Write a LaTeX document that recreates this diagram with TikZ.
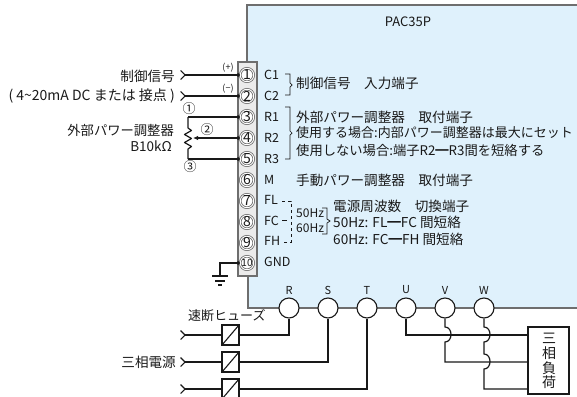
\documentclass[tikz,border=0pt]{standalone}
\usepackage{fontspec}
\setmainfont{Noto Sans CJK JP}
\usetikzlibrary{
    arrows.meta,
    calc
}
\definecolor{panelblue}{RGB}{223,241,252}
\definecolor{edgegray}{RGB}{110,110,110}
\definecolor{inkdark}{RGB}{25,25,25}
\newcommand{\fs}[1]{\fontsize{#1}{#1}\selectfont}
\tikzset{
    term/.style={circle, draw=edgegray, fill=white, line width=0.8pt, double=white, double distance=0.9pt, minimum size=13.5pt, inner sep=0pt, text=inkdark, font=\fs{14}},
    power/.style={circle, draw=inkdark, fill=white, line width=1.1pt, minimum size=20pt, inner sep=0pt},
    txt/.style={inner sep=0pt, text=inkdark, anchor=west, font=\fs{13.6}},
    txtr/.style={txt, anchor=east},
    small/.style={inner sep=0pt, text=inkdark, font=\fs{11}},
    wire/.style={draw=inkdark, line width=1.2pt},
    sig/.style={wire, {Straight Barb[reversed, length=4.5pt, width=9pt, line width=1.2pt]}-{Circle[length=3.5pt]}},
    dotted end/.style={wire, -{Circle[length=3.5pt]}},
    feed/.style={wire, {Straight Barb[reversed, length=4.5pt, width=9pt, line width=1.2pt]}-},
    brace/.style={draw=inkdark, line width=0.7pt},
    fuse/.style={draw=inkdark, fill=white, line width=1.2pt, minimum width=17pt, minimum height=20pt, inner sep=0pt, path picture={\draw[inkdark, line width=1.1pt] (path picture bounding box.south west) -- (path picture bounding box.north east);}}
}
\begin{document}
\begin{tikzpicture}[x=1pt, y=-1pt]
    \useasboundingbox (0, 0) rectangle (577, 396);

    % panel
    \fill[panelblue] (247, 5) rectangle (580, 308);
    \draw[edgegray, line width=1.1pt] (580, 5) -- (247, 5) -- (247, 62);
    \draw[edgegray, line width=1.1pt] (248, 276) -- (248, 308) -- (580, 308);
    \draw[edgegray, line width=1.1pt, fill=white!92!black] (238, 62) rectangle (257, 276);
    \node[txt, anchor=center, font=\fs{13}] (title) at (408, 22) {PAC35P};

    % terminal strip
    \node[term] (t1) at (247, 75) {1};
    \node[term] (t2) at (247, 96) {2};
    \node[term] (t3) at (247, 117) {3};
    \node[term] (t4) at (247, 138) {4};
    \node[term] (t5) at (247, 159) {5};
    \node[term] (t6) at (247, 180) {6};
    \node[term] (t7) at (247, 201) {7};
    \node[term] (t8) at (247, 222) {8};
    \node[term] (t9) at (247, 243) {9};
    \node[term, font=\fs{10}] (t10) at (247, 263) {10};

    \node[txt, font=\fs{12.5}] (c1) at (264, 75) {C1};
    \node[txt, font=\fs{12.5}] (c2) at (264, 96) {C2};
    \node[txt, font=\fs{12.5}] (r1) at (264, 117) {R1};
    \node[txt, font=\fs{12.5}] (r2) at (264, 138) {R2};
    \node[txt, font=\fs{12.5}] (r3) at (264, 159) {R3};
    \node[txt, font=\fs{12.5}] (m) at (264, 180) {M};
    \node[txt, font=\fs{12.5}] (fl) at (264, 200) {FL};
    \node[txt, font=\fs{12.5}] (fc) at (264, 221) {FC};
    \node[txt, font=\fs{12.5}] (fh) at (264, 241) {FH};
    \node[txt, font=\fs{12.5}] (gnd) at (264, 262) {GND};

    % control inputs
    \coordinate (in1) at (180, 75);
    \coordinate (in2) at (180, 96);
    \draw[sig] (in1) -- (t1.west);
    \draw[sig] (in2) -- (t2.west);
    \node[small, font=\fs{9}] (plus) at (228, 68) {(+)};
    \node[small, font=\fs{9}] (minus) at (228, 89) {(−)};
    \node[txtr] (sigtxt) at (175, 76) {制御信号};
    \node[txtr, font=\fs{14}] (rangetxt) at (175, 96) {( 4\textasciitilde 20mA DC または 接点 )};

    % external potentiometer
    \coordinate (pot) at (188, 128);
    \coordinate (potb) at (188, 151);
    \coordinate (wiper) at (193, 138);
    \draw[dotted end] (t3.west -| pot) -- (t3.west);
    \draw[wire, line join=round] (t3.west -| pot) -- (pot) -- ++(3.5, 2.5) -- ++(-7, 4) -- ++(7, 4) -- ++(-7, 4) -- ++(7, 4) -- ++(-3.5, 2.5) -- (potb) -- (t5.west -| pot);
    \draw[dotted end] (t5.west -| pot) -- (t5.west);
    \draw[wire, {Latex[length=5pt, width=4.5pt]}-{Circle[length=3.5pt]}] (wiper) -- (t4.west);
    \node[small, font=\fs{13}] (pin1) at (189, 109) {①};
    \node[small, font=\fs{13}] (pin2) at (207, 130) {②};
    \node[small, font=\fs{13}] (pin3) at (190, 167) {③};
    \node[txtr, font=\fs{13.3}] (pottxt) at (174, 130) {外部パワー調整器};
    \node[txtr, font=\fs{13.5}] (potval) at (172, 146) {B10kΩ};

    % right hand notes
    \draw[brace] (285, 74) -- (290, 74) -- (290, 83) -- (292, 85) -- (290, 87) -- (290, 95) -- (285, 95);
    \draw[brace] (285, 107) -- (290, 107) -- (290, 131) -- (292, 133) -- (290, 135) -- (290, 159) -- (285, 159);
    \node[txt] (note1) at (296, 83) {制御信号\hspace{1em}入力端子};
    \node[txt] (note2) at (296, 117) {外部パワー調整器\hspace{1em}取付端子};
    \node[txt, font=\fs{13}] (note3) at (296, 133) {使用する場合:内部パワー調整器は最大にセット};
    \node[txt, font=\fs{13.3}] (note4) at (296, 150) {使用しない場合:端子R2━R3間を短絡する};
    \node[txt] (note5) at (296, 180) {手動パワー調整器\hspace{1em}取付端子};

    % frequency selector
    \draw[brace, dashed, dash pattern=on 3pt off 3pt] (282, 201) -- (291, 201) -- (291, 242) -- (282, 242);
    \draw[brace] (282, 220) -- (287, 220);
    \node[txt, font=\fs{12}] (hz50) at (296, 213) {50Hz};
    \node[txt, font=\fs{12}] (hz60) at (296, 228) {60Hz};
    \draw[brace] (322, 208) -- (327, 208) -- (327, 219) -- (330, 221) -- (327, 223) -- (327, 234) -- (322, 234);
    \node[txt] (freq) at (333, 206) {電源周波数\hspace{1em}切換端子};
    \node[txt] (freq50) at (333, 222) {50Hz: FL━FC 間短絡};
    \node[txt] (freq60) at (333, 239) {60Hz: FC━FH 間短絡};

    % ground
    \coordinate (earth) at (220, 276);
    \draw[dotted end] (earth) |- (t10.west);
    \draw[wire] (212, 276) -- (228, 276);
    \draw[wire] (215, 281) -- (225, 281);
    \draw[wire] (218, 285) -- (222, 285);

    % main terminals
    \node[power] (r) at (289, 308) {};
    \node[power] (s) at (328, 308) {};
    \node[power] (t) at (367, 308) {};
    \node[power] (u) at (406, 308) {};
    \node[power] (v) at (445, 308) {};
    \node[power] (w) at (484, 308) {};
    \node[small] at (289, 290) {R};
    \node[small] at (328, 290) {S};
    \node[small] at (367, 290) {T};
    \node[small] at (406, 290) {U};
    \node[small] at (445, 290) {V};
    \node[small] at (484, 290) {W};

    % fuses
    \node[fuse] (f1) at (230.5, 335) {};
    \node[fuse] (f2) at (230.5, 362) {};
    \node[fuse] (f3) at (230.5, 389) {};
    \coordinate (l1) at (180, 335);
    \coordinate (l2) at (180, 362);
    \coordinate (l3) at (180, 389);
    \draw[feed] (l1) -- (f1);
    \draw[feed] (l2) -- (f2);
    \draw[feed] (l3) -- (f3);
    \draw[wire] (f1) -| (r);
    \draw[wire] (f2) -| (s);
    \draw[wire] (f3) -| (t);
    \node[txt, font=\fs{13}] (fusetxt) at (188, 316) {速断ヒューズ};
    \node[txtr] (srctxt) at (176, 362) {三相電源};

    % load
    \node[draw=inkdark, line width=1.2pt, fill=white, minimum width=41pt, minimum height=67pt, inner sep=0pt] (load) at (548.5, 360.5) {};
    \node[txt, anchor=center, font=\fs{14}] (k1) at (549, 338) {三};
    \node[txt, anchor=center, font=\fs{14}] (k2) at (549, 353) {相};
    \node[txt, anchor=center, font=\fs{14}] (k3) at (549, 368) {負};
    \node[txt, anchor=center, font=\fs{14}] (k4) at (549, 382) {荷};
    \coordinate (lu) at (528, 335);
    \coordinate (lv) at (528, 362);
    \coordinate (lw) at (528, 389);
    \draw[wire] (u) |- (lu);
    \draw[wire] (v) -- (445, 327) .. controls (453, 327) and (453, 342) .. (445, 342) |- (lv);
    \draw[wire] (w) -- (484, 327) .. controls (492, 327) and (492, 342) .. (484, 342) -- (484, 354) .. controls (492, 354) and (492, 369) .. (484, 369) |- (lw);
\end{tikzpicture}
\end{document}
